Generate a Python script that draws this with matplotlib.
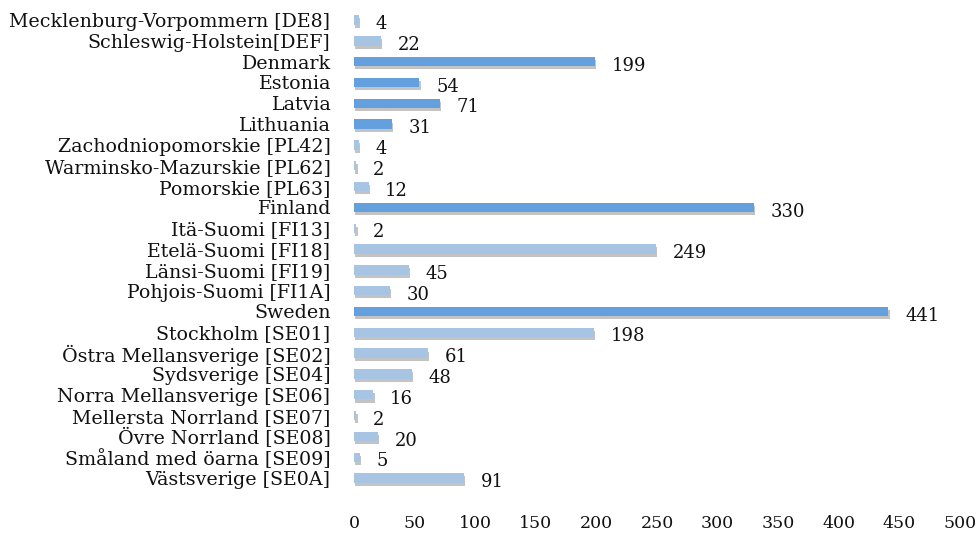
import matplotlib
matplotlib.use("Agg")
import matplotlib.pyplot as plt
import matplotlib.patheffects as pe

regions = [
    "Mecklenburg-Vorpommern [DE8]", "Schleswig-Holstein[DEF]", "Denmark", "Estonia",
    "Latvia", "Lithuania", "Zachodniopomorskie [PL42]", "Warminsko-Mazurskie [PL62]",
    "Pomorskie [PL63]", "Finland", "Itä-Suomi [FI13]", "Etelä-Suomi [FI18]",
    "Länsi-Suomi [FI19]", "Pohjois-Suomi [FI1A]", "Sweden", "Stockholm [SE01]",
    "Östra Mellansverige [SE02]", "Sydsverige [SE04]", "Norra Mellansverige [SE06]",
    "Mellersta Norrland [SE07]", "Övre Norrland [SE08]", "Småland med öarna [SE09]",
    "Västsverige [SE0A]",
]
values = [4, 22, 199, 54, 71, 31, 4, 2, 12, 330, 2, 249, 45, 30, 441, 198,
          61, 48, 16, 2, 20, 5, 91]
countries = ["Denmark", "Estonia", "Latvia", "Lithuania", "Finland", "Sweden"]
xticks = [0, 50, 100, 150, 200, 250, 300, 350, 400, 450, 500]

COUNTRY_COLOR = "#63a0dd"
REGION_COLOR = "#a7c4e3"
FONT = ["DejaVu Serif"]

fig = plt.figure(figsize=(9.76, 5.35), dpi=100)
ax = fig.add_axes([354 / 976, 0.087, 606 / 976, 0.895])

colors = [COUNTRY_COLOR if r in countries else REGION_COLOR for r in regions]
ypos = list(range(len(regions)))
bars = ax.barh(ypos, values, height=0.45, color=colors, zorder=3)
for b in bars:
    b.set_path_effects([
        pe.SimplePatchShadow(offset=(0.8, -2.2), shadow_rgbFace="#6a6a6a", alpha=0.4),
        pe.Normal(),
    ])

for y, v in zip(ypos, values):
    ax.annotate(str(v), xy=(v, y), xytext=(12, -3), textcoords="offset points",
                ha="left", va="center", fontsize=13, family=FONT, color="#111111")

ax.set_xlim(0, 500)
ax.set_ylim(len(regions) - 0.5, -0.5)
ax.set_yticks(ypos)
ax.set_yticklabels(regions, family=FONT, fontsize=13.7, color="#111111")
ax.set_xticks(xticks)
ax.set_xticklabels([str(t) for t in xticks], family=FONT, fontsize=12.5, color="#111111")
ax.tick_params(axis="both", length=0)
ax.tick_params(axis="x", pad=19)
ax.tick_params(axis="y", pad=17)
for s in ax.spines.values():
    s.set_visible(False)

fig.savefig("out.png", dpi=100)
